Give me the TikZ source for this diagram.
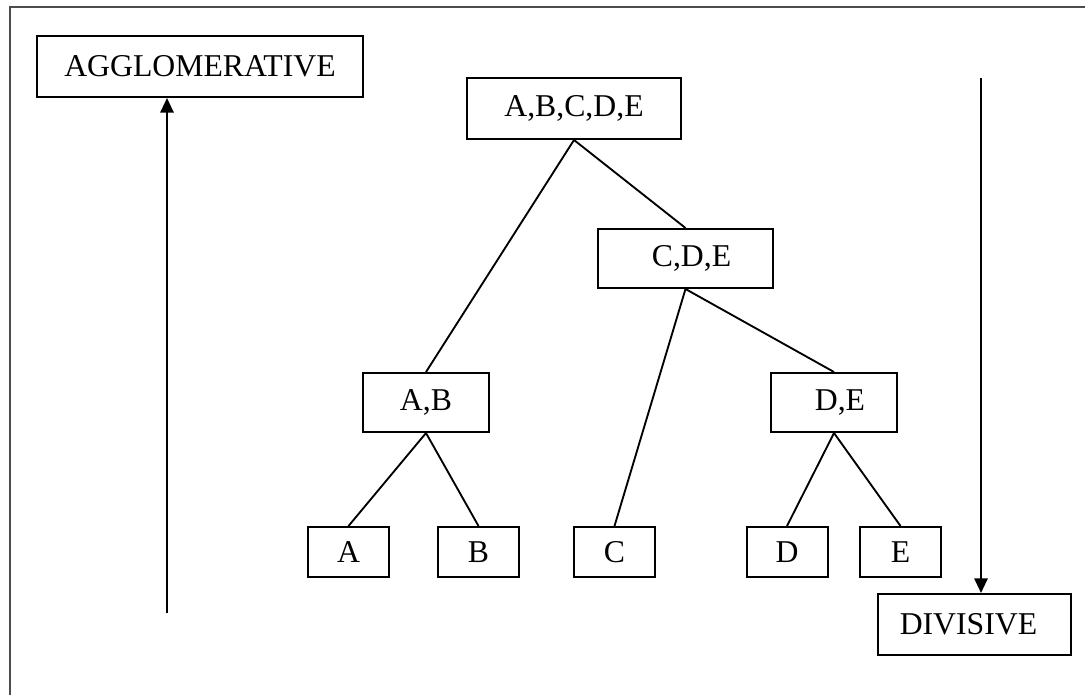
\documentclass[tikz,border=0pt]{standalone}
\usepackage{fontspec}
\setmainfont{Liberation Serif}
\usetikzlibrary{arrows.meta}
\begin{document}
\begin{tikzpicture}[x=0.75pt,y=-0.75pt,
  box/.style={draw,line width=1.5pt,inner sep=0pt,font=\fontsize{23.8}{28}\selectfont},
  link/.style={line width=1.4pt},
  flow/.style={line width=1.5pt,-{Triangle[length=11pt,width=10pt]}}]
\useasboundingbox (0,0) rectangle (1085,695);
\draw[line width=1.6pt,color=black!70] (10,720) -- (10,7) -- (1100,7);
% nodes
\node[box,minimum width=244.5pt,minimum height=45.75pt] (agg) at (200,66.5) {AGGLOMERATIVE};
\node[box,minimum width=160.5pt,minimum height=45.75pt] (abcde) at (574,108.5) {A,B,C,D,E};
\node[box,minimum width=131.25pt,minimum height=44.25pt] (cde) at (685.5,258.5) {\hspace*{9pt}C,D,E};
\node[box,minimum width=94.5pt,minimum height=44.25pt] (ab) at (426,402.5) {A,B};
\node[box,minimum width=94.5pt,minimum height=44.25pt] (de) at (834,402.5) {\hspace*{9pt}D,E};
\node[box,minimum width=60.75pt,minimum height=37.5pt] (a) at (348.5,552) {A};
\node[box,minimum width=60.75pt,minimum height=37.5pt] (b) at (478.5,552) {B};
\node[box,minimum width=60.75pt,minimum height=37.5pt] (c) at (614.5,552) {C};
\node[box,minimum width=60.75pt,minimum height=37.5pt] (d) at (787,552) {D};
\node[box,minimum width=60.75pt,minimum height=37.5pt] (e) at (900.5,552) {E};
\node[box,minimum width=144.75pt,minimum height=45.75pt] (div) at (974.5,624.5) {DIVISIVE\hspace*{9pt}};
% connectors
\draw[link] (abcde.south) -- (ab.north);
\draw[link] (abcde.south) -- (cde.north);
\draw[link] (cde.south) -- (c.north);
\draw[link] (cde.south) -- (de.north);
\draw[link] (ab.south) -- (a.north);
\draw[link] (ab.south) -- (b.north);
\draw[link] (de.south) -- (d.north);
\draw[link] (de.south) -- (e.north);
% arrows
\coordinate (upstart) at (167,613);
\coordinate (downstart) at (981,78);
\draw[flow] (upstart) -- (upstart |- agg.south);
\draw[flow] (downstart) -- (downstart |- div.north);
\end{tikzpicture}
\end{document}
